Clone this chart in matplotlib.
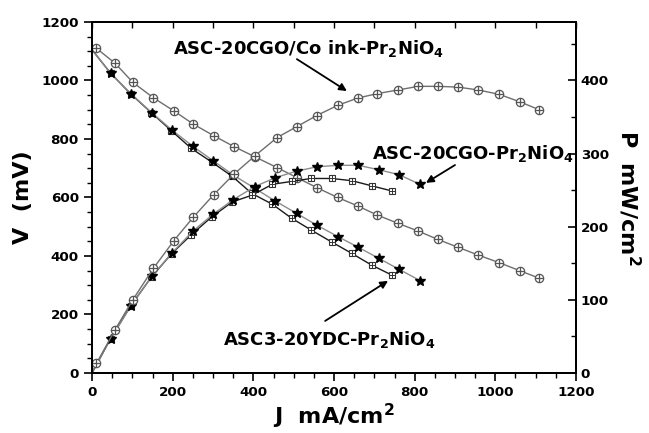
import numpy as np
import matplotlib
matplotlib.use("Agg")
import matplotlib.pyplot as plt
from matplotlib.ticker import MultipleLocator

plt.rcParams["font.family"] = "DejaVu Sans"
plt.rcParams["font.weight"] = "bold"
plt.rcParams["axes.labelweight"] = "bold"
plt.rcParams["mathtext.default"] = "bf"

# ASC-20CGO/Co ink-Pr2NiO4
J_co = [0, 11, 57, 101, 152, 203, 251, 302, 352, 404, 459, 508, 557, 609, 659,
        707, 758, 809, 857, 907, 958, 1010, 1060, 1109]
V_co = [1115, 1110, 1059, 994, 941, 896, 851, 811, 774, 739, 702, 668, 634, 600,
        571, 540, 512, 485, 457, 430, 403, 377, 350, 324]
P_co = [0, 13, 59, 100, 143, 181, 213, 244, 272, 297, 322, 337, 352, 366, 376,
        382, 387, 392, 392, 391, 387, 381, 371, 360]

# ASC-20CGO-Pr2NiO4
J_st = [0, 46, 97, 148, 198, 250, 300, 350, 404, 454, 507, 558, 610, 660, 711, 762, 813]
V_st = [1105, 1025, 954, 890, 831, 775, 726, 677, 631, 588, 546, 505, 466, 430, 392, 354, 316]
P_st = [0, 47, 92, 132, 164, 194, 217, 237, 255, 267, 276, 282, 284, 284, 278, 271, 258]

# ASC3-20YDC-Pr2NiO4
J_sq = [0, 46, 96, 147, 197, 246, 298, 348, 396, 447, 495, 543, 594, 644, 693, 743]
V_sq = [1105, 1025, 954, 890, 828, 768, 720, 672, 614, 577, 529, 489, 448, 409, 369, 335]
P_sq = [0, 47, 92, 131, 163, 189, 214, 234, 243, 258, 262, 266, 266, 263, 256, 249]

fig = plt.figure(figsize=(6.49, 4.33), dpi=100)
ax = fig.add_axes([0.1418, 0.1386, 0.7457, 0.8106])
ax2 = ax.twinx()

skip0 = slice(1, None)


def circ(a, x, y):
    a.plot(x, y, "-", color="#6e6e6e", lw=1.0, marker="o", ms=6.0, mfc="white",
           mec="#555555", mew=0.9, markevery=skip0)
    a.plot(x[1:], y[1:], "+", color="#555555", ms=6.0, mew=0.9)


def star(a, x, y):
    a.plot(x, y, "-", color="#8c8c8c", lw=1.0, marker="*", ms=7.5, mfc="black",
           mec="black", markevery=skip0)


def sq(a, x, y):
    a.plot(x, y, "-", color="#1a1a1a", lw=1.0, marker="s", ms=4.6, mfc="white",
           mec="#333333", mew=0.8, markevery=skip0)
    a.plot(x[1:], y[1:], "+", color="#333333", ms=4.6, mew=0.7)


for a, (xc, yc), (xs, ys), (xq, yq) in [
        (ax, (J_co, V_co), (J_st, V_st), (J_sq, V_sq)),
        (ax2, (J_co, P_co), (J_st, P_st), (J_sq, P_sq))]:
    sq(a, xq, yq)
    star(a, xs, ys)
    circ(a, xc, yc)

ax.set_xlim(0, 1200)
ax.set_ylim(0, 1200)
ax2.set_ylim(0, 480)

ax.xaxis.set_major_locator(MultipleLocator(200))
ax.xaxis.set_minor_locator(MultipleLocator(50))
ax.yaxis.set_major_locator(MultipleLocator(200))
ax.yaxis.set_minor_locator(MultipleLocator(50))
ax2.yaxis.set_minor_locator(MultipleLocator(50))
ax2.set_yticks([0, 100, 200, 300, 400])

ax.tick_params(which="major", direction="out", length=6, width=1.2, labelsize=9.7)
ax.tick_params(which="minor", direction="out", length=3.5, width=1.0)
ax.tick_params(axis="y", right=False)
ax2.tick_params(which="major", direction="in", length=6, width=1.2, labelsize=9.7)
ax2.tick_params(which="minor", direction="in", length=3.5, width=1.0)

top = ax.secondary_xaxis("top")
top.xaxis.set_major_locator(MultipleLocator(100))
top.tick_params(direction="in", length=4, width=1.0, labeltop=False)

for a in (ax, ax2):
    for s in a.spines.values():
        s.set_linewidth(1.4)
top.spines["top"].set_linewidth(1.4)

for lab in ax.get_xticklabels() + ax.get_yticklabels() + ax2.get_yticklabels():
    lab.set_fontweight("bold")

ax.set_xlabel("J  mA/cm$^2$", fontsize=16, fontweight="bold", labelpad=2)
ax.set_ylabel("V  (mV)", fontsize=16, fontweight="bold", labelpad=6)
ax2.set_ylabel("P  mW/cm$^2$", fontsize=16, fontweight="bold", rotation=270, labelpad=24)

ax.text(200, 1091, "ASC-20CGO/Co ink-Pr$_2$NiO$_4$", fontsize=13, fontweight="bold",
        ha="left", va="baseline")
ax.text(694, 732, "ASC-20CGO-Pr$_2$NiO$_4$", fontsize=13, fontweight="bold",
        ha="left", va="baseline")
ax.text(325, 97, "ASC3-20YDC-Pr$_2$NiO$_4$", fontsize=13, fontweight="bold",
        ha="left", va="baseline")

arrow = dict(arrowstyle="-|>", color="black", lw=1.3, mutation_scale=11, shrinkA=0, shrinkB=0)
ax.annotate("", xy=(632, 964), xytext=(508, 1073), arrowprops=arrow)
ax.annotate("", xy=(828, 650), xytext=(900, 711), arrowprops=arrow)
ax.annotate("", xy=(734, 315), xytext=(578, 178), arrowprops=arrow)

fig.savefig("out.png", dpi=100)
